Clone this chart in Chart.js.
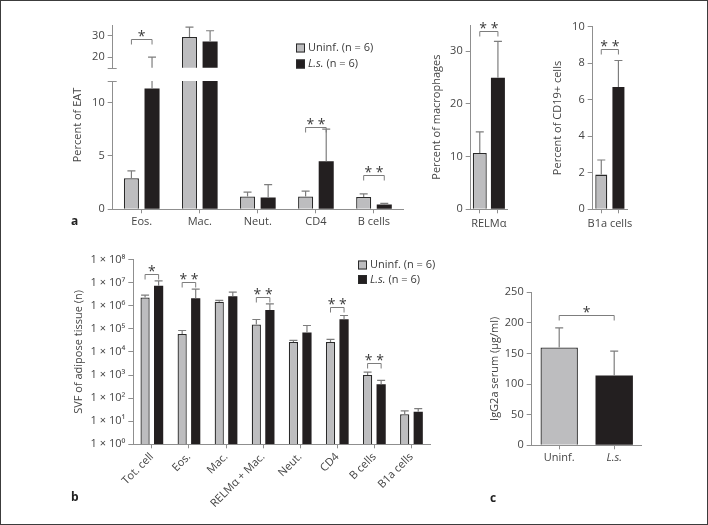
<!DOCTYPE html>
<html>
<head>
<meta charset="utf-8">
<script src="https://cdn.jsdelivr.net/npm/chart.js@4.4.0/dist/chart.umd.min.js"></script>
<style>
  html, body { margin: 0; padding: 0; background: #fff; }
  #fig { position: relative; width: 708px; height: 525px; overflow: hidden; }
  #frame { position: absolute; left: 0; top: 0; width: 708px; height: 525px; box-sizing: border-box; border: 1px solid #3c3c3c; pointer-events: none; }
  canvas { position: absolute; }
  .tag { position: absolute; font: bold 12px 'Open Sans', sans-serif; color: #222; }
</style>
</head>
<body>
<div id="fig">
  <canvas id="eatHigh"></canvas>
  <canvas id="eatLow"></canvas>
  <canvas id="relm"></canvas>
  <canvas id="b1a"></canvas>
  <canvas id="svf"></canvas>
  <canvas id="igg"></canvas>
  <div class="tag" style="left:71px;top:212px">a</div>
  <div class="tag" style="left:71px;top:488px">b</div>
  <div class="tag" style="left:490px;top:489px">c</div>
  <div id="frame"></div>
</div>
<script>
// series
const seriesNames = ['Uninf.', 'L.s.'];
const seriesItalic = [false, true];
const seriesN = [6, 6];

// panel a: percent of EAT (broken axis)
const eatCats = ['Eos.', 'Mac.', 'Neut.', 'CD4', 'B cells'];
const eatUninf = [2.9, 29.4, 1.2, 1.2, 1.15];
const eatUninfSd = [0.7, 4.6, 0.4, 0.5, 0.3];
const eatLs = [11.3, 27.3, 1.1, 4.5, 0.45];
const eatLsSd = [8.7, 5.0, 1.2, 3.0, 0.1];
const eatLowTicks = [0, 5, 10];
const eatHighTicks = [20, 30];
const eatHighStars = [['*', 0, 28.3]];
const eatLowStars = [['* *', 3, 7.7], ['* *', 4, 3.2]];

// panel a: RELMa of macrophages
const relmVals = [10.7, 25.0];
const relmSd = [4.0, 6.9];
const relmTicks = [0, 10, 20, 30];
const relmStars = [['* *', 33.8]];

// panel a: B1a of CD19+
const b1aVals = [1.9, 6.7];
const b1aSd = [0.8, 1.45];
const b1aTicks = [0, 2, 4, 6, 8, 10];
const b1aStars = [['* *', 8.8]];

// panel b: SVF counts (log)
const svfCats = ['Tot. cell', 'Eos.', 'Mac.', 'RELMα + Mac.', 'Neut.', 'CD4', 'B cells', 'B1a cells'];
const svfUninf = [2.3e6, 6e4, 1.5e6, 1.55e5, 2.7e4, 2.7e4, 1.0e3, 20];
const svfUninfSd = [0.6e6, 2.5e4, 0.2e6, 1.0e5, 0.5e4, 0.8e4, 0.35e3, 8];
const svfLs = [7.4e6, 2.1e6, 2.6e6, 6.5e5, 7e4, 2.6e5, 400, 26];
const svfLsSd = [4.6e6, 3.2e6, 1.3e6, 5.5e5, 7e4, 1.2e5, 190, 9];
const svfTicks = [1, 10, 100, 1e3, 1e4, 1e5, 1e6, 1e7, 1e8];
const svfTickLabels = ['1 × 10⁰', '1 × 10¹', '1 × 10²', '1 × 10³', '1 × 10⁴', '1 × 10⁵', '1 × 10⁶', '1 × 10⁷', '1 × 10⁸'];
const svfStars = [['*', 0, 2.3e7], ['* *', 1, 1.1e7], ['* *', 3, 2.3e6], ['* *', 5, 8.5e5], ['* *', 6, 3.3e3]];

// panel c: IgG2a serum
const igVals = [160, 114];
const igSd = [32, 40];
const igTicks = [0, 50, 100, 150, 200, 250];
const igStars = [['*', 213]];

const GREY = '#bdbdbf', BLACK = '#231f20', EDGE = '#2a2a2a', AXIS = '#8f8f8f', ERR = '#7d7d7d';
const INK = '#454545';
const FONT = "'Open Sans', 'Noto Sans', 'DejaVu Sans', sans-serif";

Chart.defaults.font.family = FONT;
Chart.defaults.font.size = 11;
Chart.defaults.color = INK;
Chart.defaults.animation = false;
Chart.defaults.plugins.legend.display = false;
Chart.defaults.plugins.tooltip.enabled = false;

function place(id, box) {
  const cv = document.getElementById(id);
  cv.width = box.w;
  cv.height = box.h;
  cv.style.left = box.x + 'px';
  cv.style.top = box.y + 'px';
  return cv;
}

// pin the chart area to given page coordinates
function fixArea(opts, box, area, hasX) {
  opts.responsive = false;
  opts.devicePixelRatio = 1;
  opts.layout = { padding: {
    left: 0,
    top: area.top - box.y,
    right: box.x + box.w - area.right,
    bottom: hasX ? 0 : box.y + box.h - area.bottom
  } };
  opts.scales.y.afterFit = s => { s.width = area.left - box.x; };
  if (hasX) opts.scales.x.afterFit = s => { s.height = box.y + box.h - area.bottom; };
  return opts;
}

function yScale(min, max, ticks, extra) {
  return Object.assign({
    min: min, max: max,
    border: { color: AXIS },
    grid: { drawOnChartArea: false, color: AXIS, tickLength: 5 },
    ticks: { padding: 3 },
    afterBuildTicks: s => { s.ticks = ticks.map(v => ({ value: v })); }
  }, extra || {});
}

function xScale(extra) {
  return Object.assign({
    offset: true,
    border: { color: AXIS },
    grid: { offset: false, drawOnChartArea: false, color: AXIS, tickLength: 4 },
    ticks: { padding: 2 }
  }, extra || {});
}

function yTitle(text, pad) {
  return { display: true, text: text, padding: { top: pad, bottom: 0 }, font: { size: 11 } };
}

const barX = (chart, d, i) => chart.getDatasetMeta(d).data[i].x;

// upward error bars, clipped to the plot area
const errorBars = {
  id: 'errorBars',
  afterDatasetsDraw(chart) {
    const { ctx, chartArea: a } = chart;
    const y = chart.scales.y;
    ctx.save();
    ctx.beginPath();
    ctx.rect(a.left - 20, a.top, a.right - a.left + 40, a.bottom - a.top);
    ctx.clip();
    ctx.strokeStyle = ERR;
    ctx.lineWidth = 1.2;
    chart.data.datasets.forEach((ds, d) => {
      ds.data.forEach((v, i) => {
        const x = barX(chart, d, i);
        const y0 = y.getPixelForValue(v);
        const y1 = y.getPixelForValue(v + ds.sd[i]);
        ctx.beginPath();
        ctx.moveTo(x, y0);
        ctx.lineTo(x, y1);
        ctx.moveTo(x - 4, y1);
        ctx.lineTo(x + 4, y1);
        ctx.stroke();
      });
    });
    ctx.restore();
  }
};

// significance brackets; pair = true -> two datasets, else one dataset with two bars
function starBrackets(items, pair) {
  return {
    id: 'stars',
    afterDatasetsDraw(chart) {
      const { ctx } = chart;
      const y = chart.scales.y;
      ctx.save();
      ctx.strokeStyle = ERR;
      ctx.lineWidth = 1;
      ctx.fillStyle = '#3a3a3a';
      ctx.font = '14px ' + FONT;
      ctx.textAlign = 'center';
      ctx.textBaseline = 'alphabetic';
      items.forEach(it => {
        const text = it[0];
        const xa = pair ? barX(chart, 0, it[1]) : barX(chart, 0, 0);
        const xb = pair ? barX(chart, 1, it[1]) : barX(chart, 0, 1);
        const py = Math.round(y.getPixelForValue(pair ? it[2] : it[1])) + 0.5;
        ctx.beginPath();
        ctx.moveTo(xa, py + 5);
        ctx.lineTo(xa, py);
        ctx.lineTo(xb, py);
        ctx.lineTo(xb, py + 5);
        ctx.stroke();
        ctx.fillText(text, (xa + xb) / 2, py + 1.5);
      });
      ctx.restore();
    }
  };
}

function seriesKey(x, y, rowGap) {
  return {
    id: 'seriesKey',
    afterDraw(chart) {
      const { ctx } = chart;
      ctx.save();
      ctx.textBaseline = 'middle';
      seriesNames.forEach((name, k) => {
        const cy = y + k * rowGap;
        ctx.fillStyle = k === 0 ? GREY : BLACK;
        ctx.fillRect(x, cy - 4.5, 9, 9);
        ctx.strokeStyle = EDGE;
        ctx.lineWidth = 1;
        ctx.strokeRect(x + 0.5, cy - 4, 8, 8);
        ctx.fillStyle = '#3a3a3a';
        ctx.font = (seriesItalic[k] ? 'italic ' : '') + '11px ' + FONT;
        ctx.fillText(name, x + 12, cy);
        const w = ctx.measureText(name).width;
        ctx.font = '11px ' + FONT;
        ctx.fillText(' (n = ' + seriesN[k] + ')', x + 12 + w, cy);
      });
      ctx.restore();
    }
  };
}

// category caption centred under a two-bar axis
function caption(text, dy) {
  return {
    id: 'caption',
    afterDraw(chart) {
      const { ctx, chartArea: a } = chart;
      ctx.save();
      ctx.fillStyle = INK;
      ctx.font = '11px ' + FONT;
      ctx.textAlign = 'center';
      ctx.textBaseline = 'middle';
      ctx.fillText(text, (a.left + a.right) / 2, a.bottom + dy);
      ctx.restore();
    }
  };
}

// rotated axis title placed relative to the plot area
function sideTitle(text, dx, dy) {
  return {
    id: 'sideTitle',
    afterDraw(chart) {
      const { ctx, chartArea: a } = chart;
      ctx.save();
      ctx.translate(a.left + dx, a.top + dy);
      ctx.rotate(-Math.PI / 2);
      ctx.fillStyle = INK;
      ctx.font = '11px ' + FONT;
      ctx.textAlign = 'center';
      ctx.textBaseline = 'middle';
      ctx.fillText(text, 0, 0);
      ctx.restore();
    }
  };
}

// little horizontal marks at the ends of the axis break
function breakMark(edge) {
  return {
    id: 'breakMark',
    afterDraw(chart) {
      const { ctx, chartArea: a } = chart;
      const py = Math.round(edge === 'top' ? a.top : a.bottom) + 0.5;
      ctx.save();
      ctx.strokeStyle = AXIS;
      ctx.lineWidth = 1;
      ctx.beginPath();
      ctx.moveTo(a.left - 5, py);
      ctx.lineTo(a.left + 4, py);
      ctx.stroke();
      ctx.restore();
    }
  };
}

function pairSets(u, us, l, ls) {
  return [
    { data: u, sd: us, backgroundColor: GREY, borderColor: EDGE, borderWidth: 1.3, clip: 0 },
    { data: l, sd: ls, backgroundColor: BLACK, borderColor: BLACK, borderWidth: 0, clip: 0 }
  ];
}

function singleSet(v, s) {
  return [{ data: v, sd: s, backgroundColor: [GREY, BLACK], borderColor: [EDGE, BLACK], borderWidth: [1.3, 0], clip: 0 }];
}

// ---- panel a, upper segment of broken axis
(function () {
  const box = { x: 50, y: 15, w: 370, h: 63 };
  const area = { left: 112.7, top: 25, right: 403, bottom: 67.7 };
  new Chart(place('eatHigh', box), {
    type: 'bar',
    data: { labels: eatCats, datasets: pairSets(eatUninf, eatUninfSd, eatLs, eatLsSd) },
    options: fixArea({
      datasets: { bar: { categoryPercentage: 0.71, barPercentage: 0.73 } },
      scales: { x: xScale({ display: false }), y: yScale(15, 35, eatHighTicks) }
    }, box, area, false),
    plugins: [errorBars, starBrackets(eatHighStars, true), breakMark('bottom'), seriesKey(246, 33, 16)]
  });
})();

// ---- panel a, lower segment
(function () {
  const box = { x: 50, y: 70, w: 370, h: 165 };
  const area = { left: 112.7, top: 81, right: 403, bottom: 209.3 };
  new Chart(place('eatLow', box), {
    type: 'bar',
    data: { labels: eatCats, datasets: pairSets(eatUninf, eatUninfSd, eatLs, eatLsSd) },
    options: fixArea({
      datasets: { bar: { categoryPercentage: 0.71, barPercentage: 0.73 } },
      scales: { x: xScale(), y: yScale(0, 12, eatLowTicks) }
    }, box, area, true),
    plugins: [errorBars, starBrackets(eatLowStars, true), breakMark('top'), sideTitle('Percent of EAT', -35, 44)]
  });
})();

// ---- panel a, RELMa
(function () {
  const box = { x: 420, y: 15, w: 92, h: 220 };
  const area = { left: 470.7, top: 25, right: 507, bottom: 209.3 };
  new Chart(place('relm', box), {
    type: 'bar',
    data: { labels: ['', ''], datasets: singleSet(relmVals, relmSd) },
    options: fixArea({
      datasets: { bar: { categoryPercentage: 1, barPercentage: 0.77 } },
      scales: {
        x: xScale(),
        y: yScale(0, 35, relmTicks, { title: yTitle('Percent of macrophages', 9.8) })
      }
    }, box, area, true),
    plugins: [errorBars, starBrackets(relmStars, false), caption('RELMα', 14.5)]
  });
})();

// ---- panel a, B1a cells
(function () {
  const box = { x: 540, y: 15, w: 95, h: 220 };
  const area = { left: 592.7, top: 26.7, right: 627, bottom: 209.3 };
  new Chart(place('b1a', box), {
    type: 'bar',
    data: { labels: ['', ''], datasets: singleSet(b1aVals, b1aSd) },
    options: fixArea({
      datasets: { bar: { categoryPercentage: 1, barPercentage: 0.7 } },
      scales: {
        x: xScale(),
        y: yScale(0, 10, b1aTicks, { title: yTitle('Percent of CD19+ cells', 10.8) })
      }
    }, box, area, true),
    plugins: [errorBars, starBrackets(b1aStars, false), caption('B1a cells', 14.5)]
  });
})();

// ---- panel b, SVF counts on log axis
(function () {
  const box = { x: 40, y: 250, w: 412, h: 268 };
  const area = { left: 133.3, top: 259.6, right: 430, bottom: 444.3 };
  new Chart(place('svf', box), {
    type: 'bar',
    data: { labels: svfCats, datasets: pairSets(svfUninf, svfUninfSd, svfLs, svfLsSd) },
    options: fixArea({
      datasets: { bar: { categoryPercentage: 0.73, barPercentage: 0.68 } },
      scales: {
        x: xScale({ ticks: { padding: 2, minRotation: 45, maxRotation: 45 } }),
        y: yScale(1, 1e8, svfTicks, {
          type: 'logarithmic',
          ticks: { padding: 3, callback: v => svfTickLabels[svfTicks.indexOf(v)] },
          title: yTitle('SVF of adipose tissue (n)', 31.8)
        })
      }
    }, box, area, true),
    plugins: [errorBars, starBrackets(svfStars, true), seriesKey(318, 15, 14.5)]
  });
})();

// ---- panel c, IgG2a serum
(function () {
  const box = { x: 478, y: 280, w: 172, h: 190 };
  const area = { left: 531.7, top: 292.3, right: 641.7, bottom: 445.3 };
  new Chart(place('igg', box), {
    type: 'bar',
    data: { labels: seriesNames, datasets: singleSet(igVals, igSd) },
    options: fixArea({
      datasets: { bar: { categoryPercentage: 1, barPercentage: 0.68 } },
      scales: {
        x: xScale({ ticks: { padding: 2, font: c => ({ size: 11, style: seriesItalic[c.index] ? 'italic' : 'normal' }) } }),
        y: yScale(0, 250, igTicks, { title: yTitle('IgG2a serum (µg/ml)', 9.8) })
      }
    }, box, area, true),
    plugins: [errorBars, starBrackets(igStars, false)]
  });
})();
</script>
</body>
</html>
